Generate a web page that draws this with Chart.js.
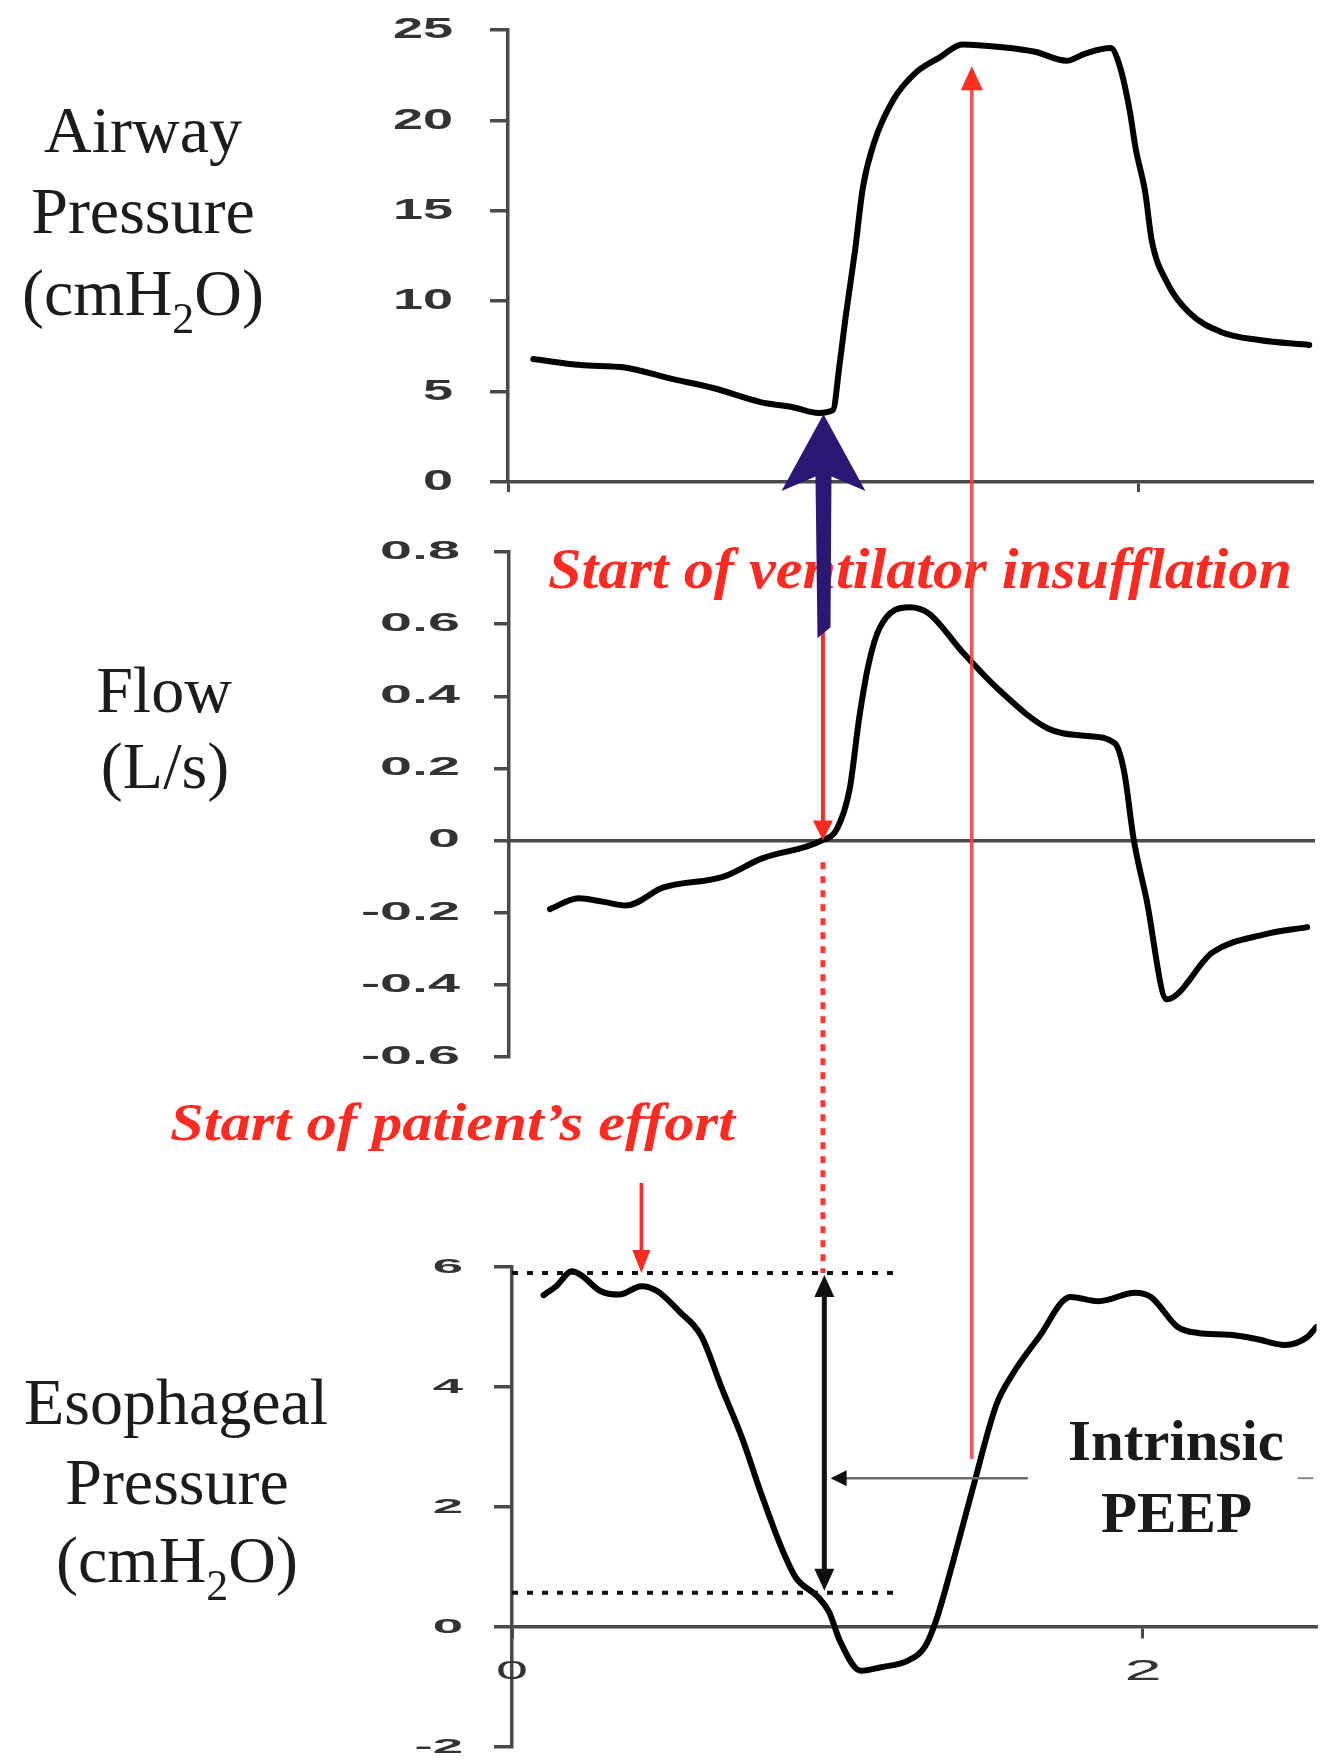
<!DOCTYPE html>
<html lang="en">
<head>
  <meta charset="UTF-8">
  <title>Airway pressure, flow and esophageal pressure</title>
  <script src="https://cdn.jsdelivr.net/npm/chart.js"></script>
  <style>
    body { margin: 0; background: #fff; }
    #wrap { position: relative; width: 1323px; height: 1760px; }
    #wrap canvas { position: absolute; left: 0; }
  </style>
</head>
<body>
  <div id="wrap">
    <canvas id="cPaw" width="1323" height="520" style="top:0px"></canvas>
    <canvas id="cFlow" width="1323" height="560" style="top:520px"></canvas>
    <canvas id="cPes" width="1323" height="680" style="top:1080px"></canvas>
    <canvas id="over" width="1323" height="1760" style="top:0px"></canvas>
  </div>

  <script>
    // time in seconds
    const airwayTime = [0.08, 0.23, 0.37, 0.52, 0.65, 0.80, 0.90, 0.985, 1.03, 1.05, 1.07, 1.10, 1.125, 1.16, 1.22, 1.29, 1.37, 1.44, 1.56, 1.67, 1.77, 1.83, 1.91, 1.94, 1.97, 1.99, 2.02, 2.04, 2.09, 2.16, 2.26, 2.38, 2.54];
    const airwayPressure = [6.8, 6.47, 6.33, 5.7, 5.2, 4.42, 4.15, 3.82, 3.98, 6.36, 9.1, 12.8, 16.3, 18.75, 21.1, 22.6, 23.5, 24.2, 24.06, 23.8, 23.3, 23.7, 24.0, 22.95, 20.6, 18.4, 16.0, 13.4, 11.0, 9.35, 8.3, 7.85, 7.58];

    const flowTime = [0.13, 0.22, 0.30, 0.37, 0.49, 0.68, 0.80, 0.99, 1.04, 1.08, 1.11, 1.14, 1.175, 1.27, 1.33, 1.44, 1.55, 1.71, 1.835, 1.92, 1.95, 1.98, 2.02, 2.085, 2.23, 2.395, 2.53];
    const flowValue = [-0.19, -0.16, -0.17, -0.18, -0.13, -0.10, -0.05, 0.0, 0.033, 0.144, 0.34, 0.49, 0.59, 0.647, 0.63, 0.52, 0.42, 0.31, 0.29, 0.27, 0.19, 0.004, -0.16, -0.44, -0.31, -0.26, -0.24];

    const esoTime = [0.10, 0.14, 0.19, 0.22, 0.28, 0.34, 0.41, 0.46, 0.53, 0.60, 0.665, 0.73, 0.79, 0.855, 0.90, 0.97, 1.005, 1.04, 1.105, 1.17, 1.255, 1.31, 1.345, 1.395, 1.46, 1.535, 1.585, 1.67, 1.77, 1.86, 1.975, 2.025, 2.11, 2.175, 2.275, 2.36, 2.45, 2.52, 2.55];
    const esoPressure = [5.53, 5.68, 5.93, 5.86, 5.6, 5.54, 5.68, 5.6, 5.26, 4.85, 3.98, 3.14, 2.22, 1.31, 0.82, 0.5, 0.25, -0.24, -0.73, -0.67, -0.56, -0.32, 0.12, 1.03, 2.3, 3.7, 4.2, 4.83, 5.5, 5.43, 5.57, 5.5, 5.0, 4.9, 4.87, 4.8, 4.7, 4.83, 5.0];

    const airwayTickLabels = ['25', '20', '15', '10', '5', '0'];
    const flowTickLabels = ['0.8', '0.6', '0.4', '0.2', '0', '-0.2', '-0.4', '-0.6'];
    const esoTickLabels = ['6', '4', '2', '0', '-2'];
    const timeTickLabels = ['0', '2'];

    // annotation levels (data units)
    const effortStart = 0.41;      // s, start of patient's effort
    const insufflationStart = 1.0; // s, start of ventilator insufflation
    const peakMark = 1.47;         // s
    const esoHigh = 5.9;           // cmH2O, dotted level
    const esoLow = 0.57;           // cmH2O, dotted level

    const AXIS = '#4a4a4a';

    function tickPlugin(labels, size, sx, right, xLabels) {
      return {
        id: 'tickText',
        afterDraw(chart) {
          const ctx = chart.ctx;
          ctx.save();
          ctx.fillStyle = '#333';
          ctx.font = 'bold ' + size + 'px "Liberation Sans", Arial, sans-serif';
          ctx.textAlign = 'right';
          ctx.textBaseline = 'middle';
          labels.forEach(l => {
            const y = chart.scales.y.getPixelForValue(parseFloat(l));
            ctx.save();
            ctx.translate(right, y);
            ctx.scale(sx, 1);
            ctx.fillText(l, 0, 0);
            ctx.restore();
          });
          if (xLabels) {
            const y0 = chart.scales.y.getPixelForValue(0) + 45;
            xLabels.forEach((l, i) => {
              const x = chart.scales.x.getPixelForValue(parseFloat(l));
              const fs = i === 0 ? 25 : 29;
              ctx.save();
              ctx.font = fs + 'px "Liberation Sans", Arial, sans-serif';
              ctx.textAlign = 'center';
              ctx.translate(x, y0);
              ctx.scale(2.3, 1);
              ctx.fillText(l, 0, 0);
              ctx.restore();
            });
          }
          ctx.restore();
        }
      };
    }

    function makeChart(id, t, v, o) {
      return new Chart(document.getElementById(id), {
        type: 'line',
        data: {
          datasets: [{
            data: t.map((x, i) => ({ x: x, y: v[i] })),
            borderColor: '#000',
            borderWidth: 6,
            pointRadius: 0,
            cubicInterpolationMode: 'monotone',
            borderJoinStyle: 'round',
            borderCapStyle: 'round',
            fill: false
          }]
        },
        options: {
          responsive: false,
          animation: false,
          devicePixelRatio: 1,
          events: [],
          layout: { padding: o.pad },
          plugins: { legend: { display: false }, tooltip: { enabled: false } },
          scales: {
            x: {
              type: 'linear',
              min: 0, max: 2.55,
              position: o.xPos,
              ticks: { display: false, stepSize: 2, includeBounds: false },
              grid: { display: o.xTicks, drawOnChartArea: false, drawTicks: true, tickLength: 10, lineWidth: 3, color: AXIS },
              border: { display: true, color: AXIS, width: 3.5 },
              afterFit: s => { s.height = 10; }
            },
            y: {
              type: 'linear',
              min: o.yMin, max: o.yMax,
              ticks: { display: false, stepSize: o.yStep, includeBounds: false },
              grid: { drawOnChartArea: false, drawTicks: true, tickLength: o.tickLen, lineWidth: 3.5, color: AXIS },
              border: { color: AXIS, width: 3.5 },
              afterFit: s => { s.width = 20; }
            }
          }
        },
        plugins: [tickPlugin(o.labels, o.fs, o.sx, o.right, o.xLabels)]
      });
    }

    const paw = makeChart('cPaw', airwayTime, airwayPressure, {
      pad: { left: 488, right: 10.5, top: 30, bottom: 28 },
      xPos: 'bottom', xTicks: true, yMin: 0, yMax: 25, yStep: 5, tickLen: 18,
      labels: airwayTickLabels, fs: 30, sx: 1.8, right: 453
    });
    const flow = makeChart('cFlow', flowTime, flowValue, {
      pad: { left: 489, right: 9.5, top: 32, bottom: 23 },
      xPos: { y: 0 }, xTicks: false, yMin: -0.6, yMax: 0.8, yStep: 0.2, tickLen: 15,
      labels: flowTickLabels, fs: 25, sx: 2.3, right: 460
    });
    const pes = makeChart('cPes', esoTime, esoPressure, {
      pad: { left: 492, right: 6.5, top: 187, bottom: 13 },
      xPos: { y: 0 }, xTicks: true, yMin: -2, yMax: 6, yStep: 2, tickLen: 18,
      labels: esoTickLabels, fs: 21, sx: 2.6, right: 463, xLabels: timeTickLabels
    });

    // ---- overlay: labels and arrows ----
    const ctx = document.getElementById('over').getContext('2d');
    const at = (ch, top, t, v) => [ch.scales.x.getPixelForValue(t), top + ch.scales.y.getPixelForValue(v)];

    const SERIF = '"Liberation Serif", "Times New Roman", serif';

    function centered(text, cx, base) {
      ctx.font = '66px ' + SERIF;
      ctx.textAlign = 'center';
      ctx.fillText(text, cx, base);
    }
    function unitLabel(cx, base) {
      ctx.textAlign = 'left';
      ctx.font = '66px ' + SERIF;
      const a = ctx.measureText('(cmH').width, c = ctx.measureText('O)').width;
      ctx.font = '44px ' + SERIF;
      const b = ctx.measureText('2').width;
      let x = cx - (a + b + c) / 2;
      ctx.font = '66px ' + SERIF; ctx.fillText('(cmH', x, base); x += a;
      ctx.font = '44px ' + SERIF; ctx.fillText('2', x, base + 18); x += b;
      ctx.font = '66px ' + SERIF; ctx.fillText('O)', x, base);
    }
    function fitText(text, x, base, w, font, color) {
      ctx.save();
      ctx.font = font; ctx.fillStyle = color; ctx.textAlign = 'left';
      const m = ctx.measureText(text).width;
      ctx.translate(x, base); ctx.scale(w / m, 1);
      ctx.fillText(text, 0, 0);
      ctx.restore();
    }
    function line(x1, y1, x2, y2, color, w, dash) {
      ctx.save();
      ctx.strokeStyle = color; ctx.lineWidth = w; ctx.setLineDash(dash || []);
      ctx.beginPath(); ctx.moveTo(x1, y1); ctx.lineTo(x2, y2); ctx.stroke();
      ctx.restore();
    }
    function head(tx, ty, dx, dy, len, half, color) {
      const bx = tx - dx * len, by = ty - dy * len;
      ctx.beginPath();
      ctx.moveTo(tx, ty);
      ctx.lineTo(bx - dy * half, by + dx * half);
      ctx.lineTo(bx + dy * half, by - dx * half);
      ctx.closePath();
      ctx.fillStyle = color; ctx.fill();
    }

    ctx.fillStyle = '#1c1c1c';
    centered('Airway', 143, 152);
    centered('Pressure', 143, 233);
    unitLabel(143, 315);
    centered('Flow', 164, 712);
    centered('(L/s)', 165, 788);
    centered('Esophageal', 176, 1424);
    centered('Pressure', 177, 1504);
    unitLabel(177, 1582);

    const RED = '#ff2a22';
    fitText('Start of ventilator insufflation', 548, 588, 744, 'italic bold 57px ' + SERIF, RED);
    fitText('Start of patient\u2019s effort', 170, 1140, 565, 'italic bold 52px ' + SERIF, RED);
    fitText('Intrinsic', 1068, 1460, 216, 'bold 56px ' + SERIF, '#1a1a1a');
    fitText('PEEP', 1101, 1532, 151, 'bold 56px ' + SERIF, '#1a1a1a');

    // black dotted levels and double arrow on esophageal pressure
    const hi0 = at(pes, 1080, 0, esoHigh), hi1 = at(pes, 1080, 1.21, esoHigh);
    const lo0 = at(pes, 1080, 0, esoLow), lo1 = at(pes, 1080, 1.21, esoLow);
    line(hi0[0], hi0[1], hi1[0], hi1[1], '#111', 4, [6, 9]);
    line(lo0[0], lo0[1], lo1[0], lo1[1], '#111', 4, [6, 9]);
    const dA = at(pes, 1080, 0.99, esoHigh), dB = at(pes, 1080, 0.99, esoLow);
    line(dA[0], dA[1] + 18, dB[0], dB[1] - 18, '#111', 5);
    head(dA[0], dA[1] + 2, 0, -1, 22, 10, '#111');
    head(dB[0], dB[1] - 2, 0, 1, 22, 10, '#111');

    // intrinsic PEEP pointer
    const gA = at(pes, 1080, 1.635, 2.48), gB = at(pes, 1080, 1.01, 2.48);
    line(gA[0], gA[1], gB[0] + 12, gB[1], '#6a6a6a', 2.5);
    head(gB[0], gB[1], -1, 0, 16, 8, '#111');
    const gC = at(pes, 1080, 2.49, 2.48), gD = at(pes, 1080, 2.54, 2.48);
    line(gC[0], gC[1], gD[0], gD[1], '#888', 2);

    // patient's effort arrow
    const eA = at(pes, 1080, effortStart, 7.4), eB = at(pes, 1080, effortStart, esoHigh);
    line(eA[0], eA[1], eB[0], eB[1] - 18, RED, 3.5);
    head(eB[0], eB[1], 0, 1, 23, 9, RED);

    // red dotted drop line from flow zero to esophageal trace
    const rA = at(flow, 520, 0.995, -0.06), rB = at(pes, 1080, 0.99, esoHigh);
    line(rA[0], rA[1], rA[0], rB[1], '#ff3a30', 5, [7, 7]);

    // red arrow down to zero flow
    const fA = at(flow, 520, 0.995, 0.58), fB = at(flow, 520, 0.995, 0);
    line(fA[0], fA[1], fB[0], fB[1] - 14, RED, 4);
    head(fB[0], fB[1], 0, 1, 20, 10, RED);

    // thin red line up to pressure plateau
    const pA = at(paw, 0, peakMark, 23), pB = at(pes, 1080, peakMark, 2.8);
    line(pA[0], pA[1] + 18, pA[0], pB[1], 'rgba(255,60,60,0.9)', 3.5);
    head(pA[0], pA[1], 0, -1, 24, 11, '#ff3020');

    // blue trigger arrow
    const bx = at(paw, 0, insufflationStart, 0)[0];
    const tipY = at(paw, 0, insufflationStart, 3.75)[1];
    const baseY = at(paw, 0, insufflationStart, -0.5)[1];
    const notchY = at(paw, 0, insufflationStart, 0.3)[1];
    const shaftEnd = at(flow, 520, insufflationStart, 0.58)[1];
    ctx.beginPath();
    ctx.moveTo(bx, tipY);
    ctx.lineTo(bx + 42, baseY);
    ctx.lineTo(bx + 8, notchY);
    ctx.lineTo(bx + 7, shaftEnd - 4);
    ctx.lineTo(bx - 6, shaftEnd + 7);
    ctx.lineTo(bx - 8, notchY);
    ctx.lineTo(bx - 42, baseY);
    ctx.closePath();
    ctx.fillStyle = '#2b1873';
    ctx.fill();
  </script>
</body>
</html>
